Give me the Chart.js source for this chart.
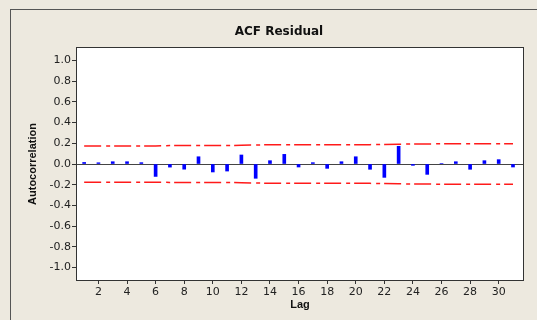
<!DOCTYPE html>
<html>
<head>
<meta charset="utf-8">
<script src="https://cdn.jsdelivr.net/npm/chart.js@4"></script>
<style>
  html, body { margin: 0; padding: 0; background: #ede9df; }
  #acf { display: block; }
</style>
</head>
<body>
<canvas id="acf" width="537" height="320"></canvas>
<script>
// ACF of residuals, lags 1..31, with 5% limits
const lags = [1, 2, 3, 4, 5, 6, 7, 8, 9, 10, 11, 12, 13, 14, 15, 16, 17, 18, 19, 20, 21, 22, 23, 24, 25, 26, 27, 28, 29, 30, 31];
const acf = [0.015, 0.012, 0.022, 0.022, 0.013, -0.12, -0.03, -0.05, 0.07, -0.077, -0.068, 0.087, -0.138, 0.032, 0.093, -0.029,
             0.013, -0.042, 0.022, 0.07, -0.051, -0.129, 0.171, -0.013, -0.1, 0.005, 0.022, -0.051, 0.032, 0.042, -0.029];
const limit = [0.175, 0.175, 0.175, 0.175, 0.175, 0.175, 0.178, 0.178, 0.178, 0.178, 0.178, 0.181, 0.183, 0.186, 0.186, 0.187,
               0.187, 0.187, 0.187, 0.187, 0.187, 0.189, 0.191, 0.194, 0.194, 0.195, 0.195, 0.195, 0.195, 0.195, 0.195];
const xTicks = [2, 4, 6, 8, 10, 12, 14, 16, 18, 20, 22, 24, 26, 28, 30];
const yTicks = [-1.0, -0.8, -0.6, -0.4, -0.2, 0.0, 0.2, 0.4, 0.6, 0.8, 1.0];

const tickFont = { family: 'DejaVu Sans', size: 11 };

// frame, white plot area, titles
const decor = {
    id: 'decor',
    beforeDraw(chart) {
        const c = chart.ctx, a = chart.chartArea;
        c.save();
        c.fillStyle = '#ede9df';
        c.fillRect(0, 0, chart.width, chart.height);
        c.strokeStyle = '#555';
        c.lineWidth = 1;
        c.strokeRect(10.5, 9.5, 560, 340);
        c.fillStyle = '#ffffff';
        c.fillRect(a.left, a.top, a.right - a.left, a.bottom - a.top);
        c.restore();
    },
    afterDraw(chart) {
        const c = chart.ctx, a = chart.chartArea;
        c.save();
        c.strokeStyle = '#333';
        c.lineWidth = 1;
        c.strokeRect(Math.round(a.left) - 0.5, Math.round(a.top) - 0.5, a.right - a.left + 1, a.bottom - a.top + 1);
        c.fillStyle = '#111';
        c.textAlign = 'center';
        c.textBaseline = 'middle';
        c.font = 'bold 12px "DejaVu Sans"';
        c.fillText('ACF Residual', 279, 32);
        c.font = 'bold 11px "Liberation Sans"';
        c.fillText('Lag', 300, 305);
        c.translate(33, 164);
        c.rotate(-Math.PI / 2);
        c.fillText('Autocorrelation', 0, 0);
        c.restore();
    }
};

const limitLine = {
    type: 'line',
    borderColor: '#ff1a1a',
    borderWidth: 1.5,
    borderDash: [17, 5, 4, 4],
    pointRadius: 0,
    tension: 0,
    fill: false
};

new Chart(document.getElementById('acf').getContext('2d'), {
    type: 'bar',
    data: {
        datasets: [{
            label: 'ACF',
            data: lags.map((l, i) => ({ x: l, y: acf[i] })),
            backgroundColor: '#0000ff',
            barThickness: 3
        }, Object.assign({
            label: 'Upper',
            data: lags.map((l, i) => ({ x: l, y: limit[i] }))
        }, limitLine), Object.assign({
            label: 'Lower',
            data: lags.map((l, i) => ({ x: l, y: -limit[i] }))
        }, limitLine)]
    },
    options: {
        responsive: false,
        animation: false,
        layout: { padding: { top: 48, right: 14, left: 0, bottom: 0 } },
        plugins: {
            legend: { display: false },
            tooltip: { enabled: false }
        },
        scales: {
            x: {
                type: 'linear',
                offset: false,
                min: 0.5,
                max: 31.7,
                afterBuildTicks: s => { s.ticks = xTicks.map(v => ({ value: v })); },
                afterFit: s => { s.height = 40; },
                grid: { drawOnChartArea: false, offset: false, tickLength: 4, tickColor: '#333' },
                border: { display: false },
                ticks: { font: tickFont, color: '#222', padding: 2, maxRotation: 0 }
            },
            y: {
                min: -1.12,
                max: 1.12,
                afterBuildTicks: s => { s.ticks = yTicks.map(v => ({ value: v })); },
                afterFit: s => { s.width = 77; },
                grid: {
                    color: c => (c.tick && c.tick.value === 0 ? '#444' : 'rgba(0,0,0,0)'),
                    tickColor: '#333',
                    tickLength: 5
                },
                border: { display: false },
                ticks: {
                    font: tickFont,
                    color: '#222',
                    padding: 1,
                    callback: v => v.toFixed(1)
                }
            }
        }
    },
    plugins: [decor]
});
</script>
</body>
</html>
